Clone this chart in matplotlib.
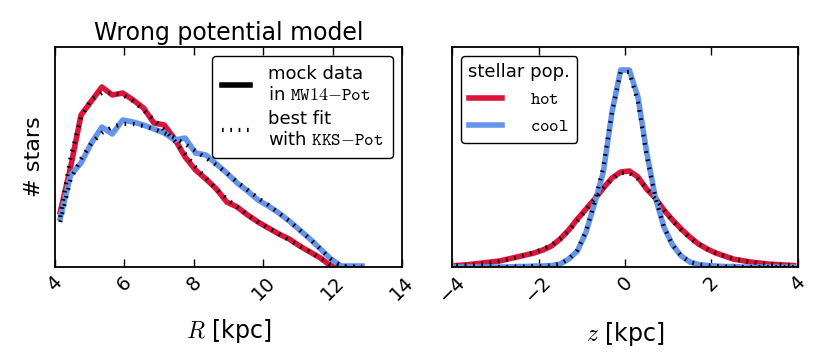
import matplotlib
matplotlib.use("Agg")
import matplotlib.pyplot as plt
import numpy as np

# ---------------- data ----------------
R_bins = [4.15, 4.45, 4.75, 5.05, 5.35, 5.65, 5.95, 6.25, 6.55, 6.85, 7.15, 7.45,
          7.75, 8.05, 8.35, 8.65, 8.95, 9.25, 9.55, 9.85, 10.15, 10.45, 10.75,
          11.05, 11.35, 11.65, 11.95, 12.25, 12.55, 12.85]
R_hot_data = [55, 100, 152, 166, 180, 172, 174, 167, 159, 144, 142, 128,
              110, 97, 88, 78, 65, 60, 52, 45, 39, 33, 28,
              21, 15, 9, 1, 0, 0, 0]
R_hot_fit = [50, 110, 150, 168, 174, 174, 172, 166, 157, 147, 137, 126,
             113, 100, 89, 78, 68, 60, 52, 45, 39, 33, 27,
             21, 15, 9, 2, 0, 0, 0]
R_cool_data = [49, 92, 104, 124, 140, 133, 147, 145, 142, 138, 134, 127,
               129, 114, 112, 103, 94, 84, 76, 67, 61, 54, 46,
               37, 28, 18, 8, 1, 1, 1]
R_cool_fit = [45, 88, 108, 124, 134, 140, 143, 143, 141, 138, 134, 129,
              123, 116, 109, 102, 94, 85, 77, 69, 62, 54, 46,
              37, 28, 18, 8, 1, 0.5, 0.5]

z_bins = [-3.9, -3.7, -3.5, -3.3, -3.1, -2.9, -2.7, -2.5, -2.3, -2.1,
          -1.9, -1.7, -1.5, -1.3, -1.1, -0.9, -0.7, -0.5, -0.3, -0.1,
          0.1, 0.3, 0.5, 0.7, 0.9, 1.1, 1.3, 1.5, 1.7, 1.9,
          2.1, 2.3, 2.5, 2.7, 2.9, 3.1, 3.3, 3.5, 3.7, 3.9]
z_hot_data = [1.5, 2, 3, 4, 5, 6, 8, 10, 12, 14,
              17, 21, 28, 37, 48, 58, 68, 79, 89, 95,
              96, 90, 78, 69, 57, 47, 38, 30, 23, 18,
              14, 11, 8, 6.5, 5, 4, 3, 2.5, 2, 1.5]
z_hot_fit = [1.5, 2, 2.5, 3.5, 4.5, 6, 7.5, 9.5, 12, 14.5,
             18, 22, 28, 36, 46, 57, 68, 79, 88, 94,
             94, 88, 79, 68, 57, 46, 37, 29, 23, 18,
             14, 11, 8.5, 6.5, 5, 4, 3, 2.5, 2, 1.5]
z_cool_data = [0, 0, 0, 0, 0, 0, 0, 0.5, 0.5, 1,
               1, 1.5, 3, 8, 16, 35, 64, 95, 155, 197,
               197, 170, 115, 70, 40, 22, 11, 5, 2.5, 1.5,
               1, 0.5, 0.5, 0, 0, 0, 0, 0, 0, 0]
z_cool_fit = [0, 0, 0, 0, 0, 0, 0, 0.5, 0.5, 1,
              1, 1.5, 3, 8, 17, 36, 65, 100, 155, 195,
              195, 165, 112, 70, 40, 22, 11, 5, 2.5, 1.5,
              1, 0.5, 0.5, 0, 0, 0, 0, 0, 0, 0]

R_ticks = [4, 6, 8, 10, 12, 14]
z_ticks = [-4, -2, 0, 2, 4]

# ---------------- style ----------------
plt.rcParams['mathtext.fontset'] = 'cm'
plt.rcParams['font.family'] = ['DejaVu Sans']

HOT = 'crimson'
COOL = 'cornflowerblue'
LW = 4.0
DOT = dict(color='black', lw=3.0, linestyle=(0, (0.4, 1.6)))

fig = plt.figure(figsize=(8.3, 3.56), dpi=100)
ax1 = fig.add_axes([0.0663, 0.25, 0.418, 0.618])
ax2 = fig.add_axes([0.5446, 0.25, 0.4168, 0.618])

for ax in (ax1, ax2):
    ax.tick_params(axis='x', direction='in', top=True, bottom=True,
                   length=6, width=1.0, labelsize=14, labelrotation=45, pad=4)
    ax.set_yticks([])
    for sp in ax.spines.values():
        sp.set_linewidth(1.3)

# left panel
ax1.plot(R_bins, R_hot_data, color=HOT, lw=LW, solid_joinstyle='round')
ax1.plot(R_bins, R_cool_data, color=COOL, lw=LW, solid_joinstyle='round')
ax1.plot(R_bins, R_hot_fit, **DOT)
ax1.plot(R_bins, R_cool_fit, **DOT)
ax1.set_xlim(4, 14)
ax1.set_ylim(0, 220)
ax1.set_xticks(R_ticks)
ax1.set_xlabel(r'$R$ [kpc]', fontsize=17, labelpad=10)
ax1.set_ylabel('# stars', fontsize=16, labelpad=8)
ax1.set_title('Wrong potential model', fontsize=17, pad=5)

h_solid, = ax1.plot([], [], color='black', lw=LW)
h_dot, = ax1.plot([], [], **DOT)
leg1 = ax1.legend([h_solid, h_dot],
                  ['mock data\nin $\\mathtt{MW14{-}Pot}$',
                   'best fit\nwith $\\mathtt{KKS{-}Pot}$'],
                  loc='upper right', fontsize=13, handlelength=1.6,
                  handletextpad=1.0, borderaxespad=0.5, labelspacing=0.35,
                  borderpad=0.5, fancybox=True, framealpha=1, edgecolor='black')
leg1.get_frame().set_linewidth(1.0)

# right panel
ax2.plot(z_bins, z_hot_data, color=HOT, lw=LW, label=r'$\mathtt{hot}$')
ax2.plot(z_bins, z_cool_data, color=COOL, lw=LW, label=r'$\mathtt{cool}$')
ax2.plot(z_bins, z_hot_fit, **DOT)
ax2.plot(z_bins, z_cool_fit, **DOT)
ax2.set_xlim(-4, 4)
ax2.set_ylim(0, 220)
ax2.set_xticks(z_ticks)
ax2.set_xlabel(r'$z$ [kpc]', fontsize=17, labelpad=10)
leg2 = ax2.legend(loc='upper left', title='stellar pop.', fontsize=13,
                  title_fontsize=13, handlelength=1.8, handletextpad=1.6,
                  fancybox=True, framealpha=1, edgecolor='black')
leg2.get_frame().set_linewidth(1.0)

fig.savefig('out.png', dpi=100)
